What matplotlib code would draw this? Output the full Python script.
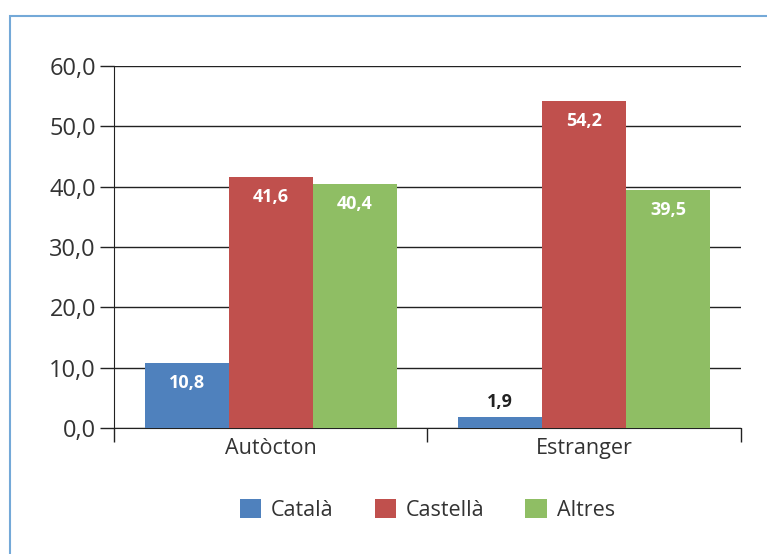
import numpy as np
import matplotlib.pyplot as plt
from matplotlib.patches import Rectangle

plt.rcParams['font.family'] = ['Open Sans', 'DejaVu Sans']

# Data
groups = ['Autòcton', 'Estranger']
series = ['Català', 'Castellà', 'Altres']
catala = [10.8, 1.9]
castella = [41.6, 54.2]
altres = [40.4, 39.5]
colors = ['#4F81BD', '#C0504D', '#8FBE64']
yticks = [0, 10, 20, 30, 40, 50, 60]

fig = plt.figure(figsize=(7.67, 5.54), dpi=100)
ax = fig.add_axes([0.1486, 0.2274, 0.8175, 0.6535])

# light blue frame (only top/left visible)
fig.patches.append(Rectangle((10 / 767, -0.5), 2, 0.5 + (554 - 16) / 554,
                             transform=fig.transFigure, fill=False,
                             edgecolor='#74A9D8', linewidth=1.5))

x = np.arange(len(groups))
w = 0.268
values = [catala, castella, altres]
for i, (name, vals, c) in enumerate(zip(series, values, colors)):
    pos = x + (i - 1) * w
    ax.bar(pos, vals, w, color=c, label=name, zorder=3)
    for p, v in zip(pos, vals):
        txt = '{:.1f}'.format(v).replace('.', ',')
        if v < 5:
            ax.text(p, v + 0.9, txt, ha='center', va='bottom',
                    fontsize=13, fontweight='bold', color='#222222')
        else:
            ax.text(p, v - 3.3, txt, ha='center', va='center',
                    fontsize=13, fontweight='bold', color='white', zorder=4)

ax.set_xlim(-0.5, 1.5)
ax.set_ylim(0, 60)
ax.set_yticks(yticks)
ax.set_yticklabels(['{:.1f}'.format(t).replace('.', ',') for t in yticks])
ax.yaxis.grid(True, color='#222222', linewidth=1, zorder=0)
ax.set_axisbelow(True)

ax.set_xticks([-0.5, 0.5, 1.5])
ax.set_xticklabels([])
ax.set_xticks(x, minor=True)
ax.set_xticklabels(groups, minor=True)
ax.tick_params(axis='x', which='minor', length=0, pad=7, labelsize=15.5, labelcolor='#333333')
ax.tick_params(axis='x', which='major', length=10, width=1, color='#222222')
ax.tick_params(axis='y', length=10, width=1, color='#222222', labelsize=17,
               labelcolor='#333333', pad=3)

for s in ['top', 'right']:
    ax.spines[s].set_visible(False)
ax.spines['left'].set_color('#222222')
ax.spines['bottom'].set_color('#222222')

fig.legend(loc='center', bbox_to_anchor=(0.557, 0.079), ncol=3, frameon=False,
           fontsize=15.5, handlelength=1.0, handleheight=1.0, columnspacing=1.9,
           handletextpad=0.45, labelcolor='#333333')

fig.savefig('out.png', dpi=100)
